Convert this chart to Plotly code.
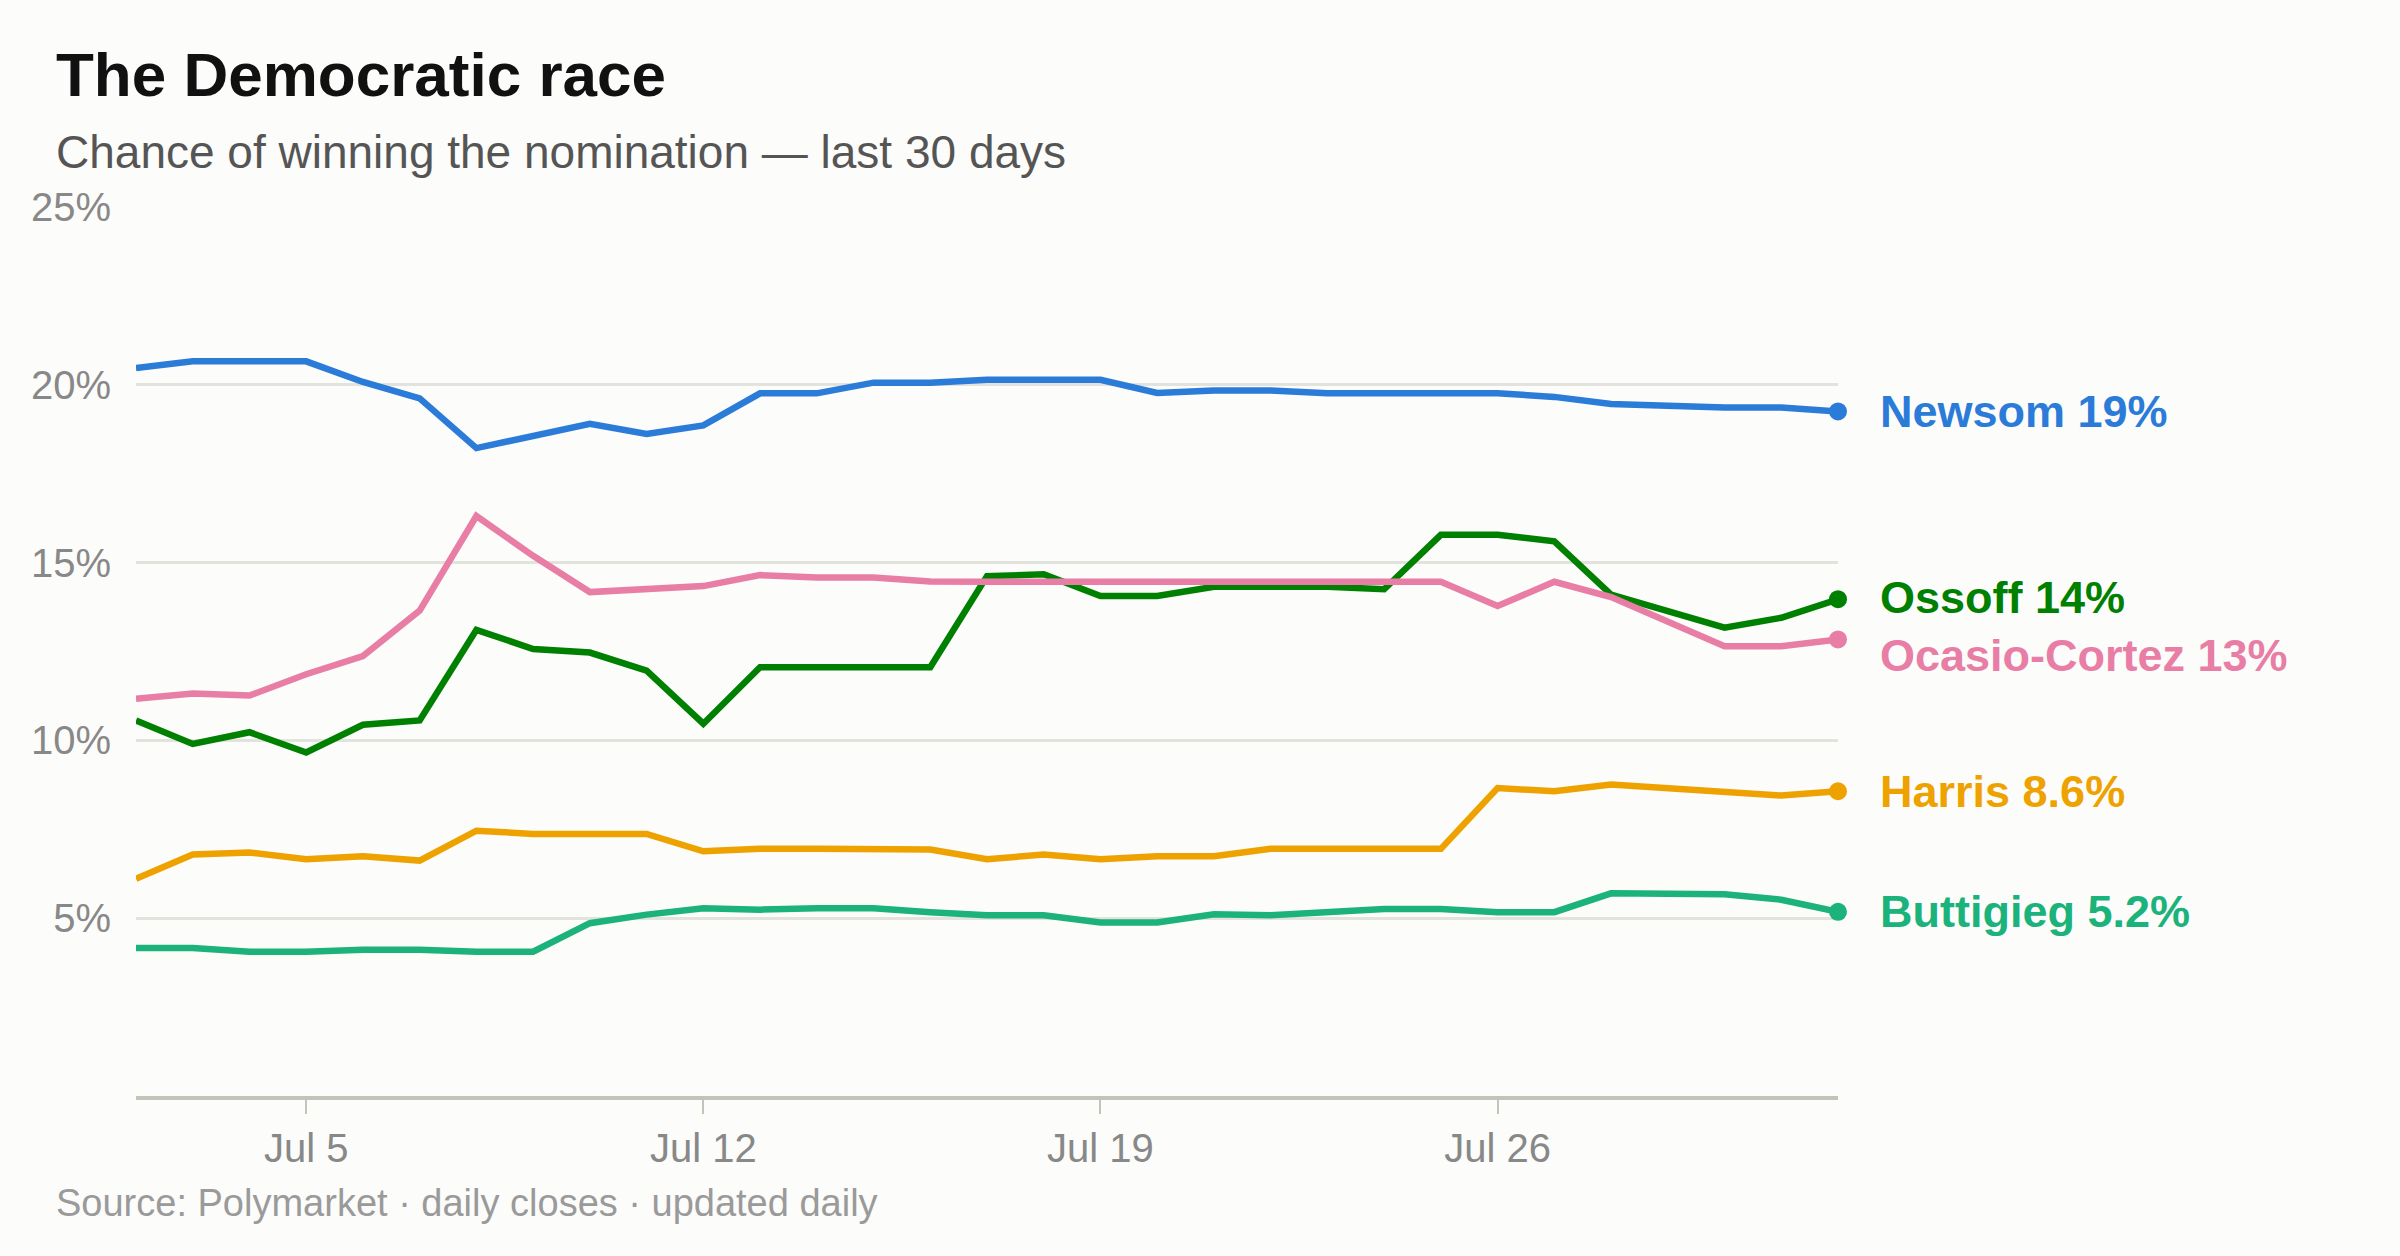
import plotly.graph_objects as go
import pandas as pd

dates = pd.date_range("2025-07-02", "2025-08-01", freq="D").strftime("%Y-%m-%d").tolist()

names = ["Newsom", "Ossoff", "Ocasio-Cortez", "Harris", "Buttigieg"]

newsom = [20.47, 20.66, 20.66, 20.66, 20.08, 19.62, 18.22, 18.57, 18.90, 18.62, 18.86,
          19.76, 19.76, 20.06, 20.06, 20.14, 20.14, 20.14, 19.77, 19.84, 19.84, 19.76,
          19.76, 19.76, 19.76, 19.66, 19.46, 19.41, 19.36, 19.36, 19.25]
ossoff = [10.56, 9.90, 10.23, 9.66, 10.44, 10.56, 13.11, 12.57, 12.47, 11.96, 10.47,
          12.06, 12.06, 12.06, 12.06, 14.62, 14.67, 14.06, 14.06, 14.32, 14.32, 14.32,
          14.25, 15.78, 15.78, 15.60, 14.10, 13.64, 13.17, 13.45, 13.97]
ocasio = [11.17, 11.32, 11.26, 11.86, 12.37, 13.65, 16.31, 15.19, 14.17, 14.27, 14.34,
          14.65, 14.58, 14.58, 14.47, 14.46, 14.46, 14.46, 14.46, 14.46, 14.46, 14.46,
          14.46, 14.46, 13.78, 14.46, 14.03, 13.35, 12.65, 12.65, 12.84]
harris = [6.11, 6.79, 6.85, 6.66, 6.74, 6.62, 7.46, 7.37, 7.37, 7.37, 6.88,
          6.95, 6.95, 6.95, 6.93, 6.66, 6.79, 6.66, 6.74, 6.74, 6.95, 6.95,
          6.95, 6.95, 8.66, 8.57, 8.76, 8.67, 8.58, 8.45, 8.57]
buttigieg = [4.16, 4.16, 4.06, 4.06, 4.11, 4.11, 4.06, 4.06, 4.86, 5.10, 5.28,
             5.24, 5.28, 5.28, 5.17, 5.08, 5.08, 4.88, 4.88, 5.11, 5.08, 5.15,
             5.26, 5.26, 5.17, 5.17, 5.70, 5.69, 5.67, 5.52, 5.18]

series = [newsom, ossoff, ocasio, harris, buttigieg]
colors = ["#2B7BD8", "#008000", "#E87EA6", "#EEA200", "#1BB27C"]
label_shift = [0, 2, -16, 0, 0]

ytick_vals = [5, 10, 15, 20, 25]
ytick_text = ["5%", "10%", "15%", "20%", "25%"]
xtick_vals = ["2025-07-05", "2025-07-12", "2025-07-19", "2025-07-26"]
xtick_text = ["Jul 5", "Jul 12", "Jul 19", "Jul 26"]

FONT = "Liberation Sans, Arial, Helvetica, sans-serif"
W, H = 2400, 1256
L, R, T, B = 136, 562, 207, 160
plot_h = H - T - B


def py(pix):
    return (H - B - pix) / plot_h


def px(pix):
    return (pix - L) / (W - L - R)


def fmt(v):
    return f"{v:.0f}%" if v >= 10 else f"{v:.1f}%"


fig = go.Figure()
for name, vals, col in zip(names, series, colors):
    fig.add_trace(go.Scatter(x=dates, y=vals, mode="lines", name=name,
                             line=dict(color=col, width=6.5), hoverinfo="skip"))
for name, vals, col in zip(names, series, colors):
    fig.add_trace(go.Scatter(x=[dates[-1]], y=[vals[-1]], mode="markers",
                             marker=dict(color=col, size=18), cliponaxis=False,
                             hoverinfo="skip"))

for name, vals, col, sh in zip(names, series, colors, label_shift):
    fig.add_annotation(x=dates[-1], y=vals[-1], xref="x", yref="y",
                       text=f"<b>{name} {fmt(vals[-1])}</b>", showarrow=False,
                       xanchor="left", yanchor="middle", xshift=40, yshift=sh,
                       font=dict(family=FONT, size=45, color=col))

fig.add_annotation(x=px(54), y=py(74), xref="paper", yref="paper",
                   text="<b>The Democratic race</b>", showarrow=False,
                   xanchor="left", yanchor="middle",
                   font=dict(family=FONT, size=62, color="#111111"))
fig.add_annotation(x=px(54), y=py(152), xref="paper", yref="paper",
                   text="Chance of winning the nomination — last 30 days", showarrow=False,
                   xanchor="left", yanchor="middle",
                   font=dict(family=FONT, size=46, color="#555555"))
fig.add_annotation(x=px(54), y=py(1203), xref="paper", yref="paper",
                   text="Source: Polymarket · daily closes · updated daily", showarrow=False,
                   xanchor="left", yanchor="middle",
                   font=dict(family=FONT, size=38, color="#9A9A9A"))

fig.update_layout(
    width=W, height=H,
    margin=dict(l=L, r=R, t=T, b=B, autoexpand=False),
    paper_bgcolor="#FCFCFA", plot_bgcolor="#FCFCFA",
    showlegend=False,
    font=dict(family=FONT),
)
fig.update_xaxes(
    range=[dates[0], dates[-1]], tickvals=xtick_vals, ticktext=xtick_text,
    showgrid=False, zeroline=False,
    showline=True, linecolor="#C4C3B9", linewidth=4,
    ticks="outside", ticklen=14, tickwidth=2, tickcolor="#C4C3B9",
    tickfont=dict(family=FONT, size=40, color="#888888"),
)
fig.update_yaxes(
    range=[0, 25], tickvals=ytick_vals, ticktext=ytick_text,
    showgrid=True, gridcolor="#E3E3DD", gridwidth=3, zeroline=False,
    showline=False, ticks="", ticklabelstandoff=24,
    tickfont=dict(family=FONT, size=40, color="#888888"),
)

fig.write_html("out.html", config={"displayModeBar": False},
               post_script="document.body.style.margin='0';document.body.style.background='#FCFCFA';")
